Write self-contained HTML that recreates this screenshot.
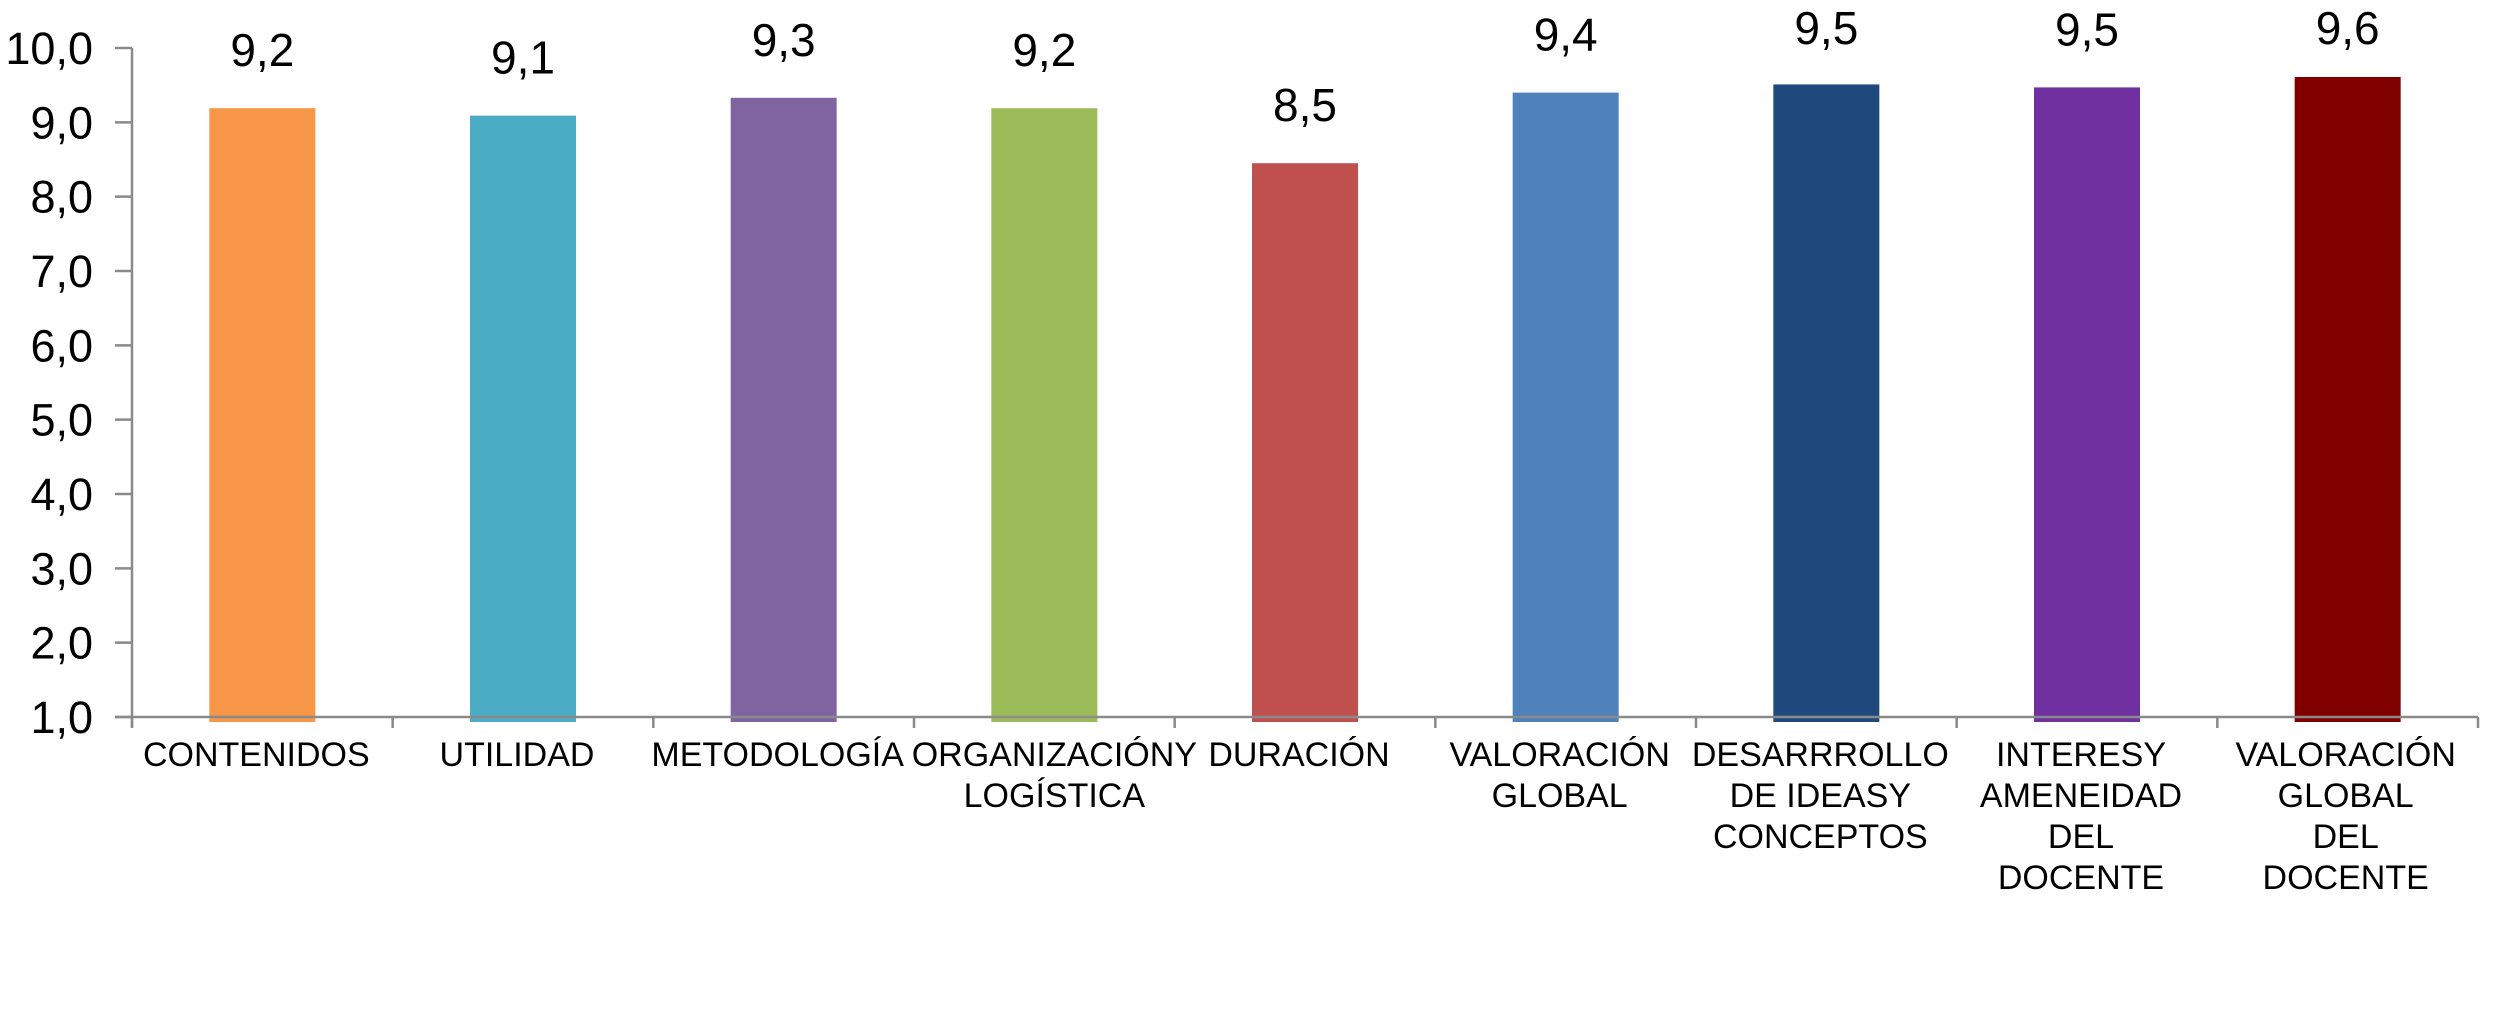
<!DOCTYPE html>
<html><head><meta charset="utf-8">
<style>
html,body{margin:0;padding:0;background:#fff;}
svg{display:block;font-family:"Liberation Sans",Arial,sans-serif;}
</style></head>
<body>
<svg id="chart" width="2502" height="1026" viewBox="0 0 2502 1026" xmlns="http://www.w3.org/2000/svg"></svg>
<script>
const categories = [
  ["CONTENIDOS"],
  ["UTILIDAD"],
  ["METODOLOGÍA"],
  ["ORGANIZACIÓNY","LOGÍSTICA"],
  ["DURACIÓN"],
  ["VALORACIÓN","GLOBAL"],
  ["DESARRROLLO","DE IDEASY","CONCEPTOS"],
  ["INTERESY","AMENEIDAD","DEL","DOCENTE"],
  ["VALORACIÓN","GLOBAL","DEL","DOCENTE"]
];
const values = [9.19, 9.09, 9.33, 9.19, 8.45, 9.40, 9.51, 9.47, 9.61];
const valueLabels = ["9,2","9,1","9,3","9,2","8,5","9,4","9,5","9,5","9,6"];
const colors = ["#F79646","#4BACC6","#8064A2","#9BBB59","#C0504D","#4F81BD","#1F497D","#7030A0","#800000"];
const yTicks = [1,2,3,4,5,6,7,8,9,10];
const yTickLabels = ["1,0","2,0","3,0","4,0","5,0","6,0","7,0","8,0","9,0","10,0"];

const NS = "http://www.w3.org/2000/svg";
const svg = document.getElementById("chart");
const X0 = 132, X1 = 2478, Y0 = 717, Y1 = 48, YMIN = 1, YMAX = 10;
const catW = (X1 - X0) / categories.length;
const barW = 106;
function y(v){ return Y0 - (v - YMIN) / (YMAX - YMIN) * (Y0 - Y1); }
function xc(i){ return X0 + catW * (i + 0.5); }
function mk(tag, attrs){ const e = document.createElementNS(NS, tag); for (const k in attrs) e.setAttribute(k, attrs[k]); svg.appendChild(e); return e; }

// bars
values.forEach((v, i) => {
  const top = y(v);
  const r = mk("rect", {x: xc(i) - barW/2, y: top, width: barW, height: Y0 + 5 - top, fill: colors[i]});
  
  
  const t = mk("text", {x: xc(i), y: Math.max(top - 42, 44), "font-size": 46, "text-anchor": "middle", fill: "#000"});
  t.textContent = valueLabels[i];
  
  
});

// y axis
const ya = mk("line", {x1: X0, y1: Y1, x2: X0, y2: Y0 + 10, stroke: "#8a8a8a", "stroke-width": 2.5});


yTicks.forEach((v, i) => {
  const tk = mk("line", {x1: X0 - 17, y1: y(v), x2: X0, y2: y(v), stroke: "#8a8a8a", "stroke-width": 2.5});
  
  
  const t = mk("text", {x: 93, y: y(v) + 16, "font-size": 45, "text-anchor": "end", fill: "#000"});
  t.textContent = yTickLabels[i];
  
  
});

// x axis
const xa = mk("line", {x1: X0 - 17, y1: Y0, x2: X1, y2: Y0, stroke: "#8a8a8a", "stroke-width": 2.5});


for (let i = 0; i <= categories.length; i++) {
  const tk = mk("line", {x1: X0 + catW*i, y1: Y0, x2: X0 + catW*i, y2: Y0 + 11, stroke: "#8a8a8a", "stroke-width": 2.5});
  
  
}
categories.forEach((lines, i) => {
  lines.forEach((ln, j) => {
    const t = mk("text", {x: xc(i) - 6 + (i === 3 ? 16 : 0) + (i === 8 ? 4 : 0), y: 766 + j*41, "font-size": 34, "text-anchor": "middle", fill: "#000"});
    t.textContent = ln;
    
    
  });
});
</script>
</body></html>
